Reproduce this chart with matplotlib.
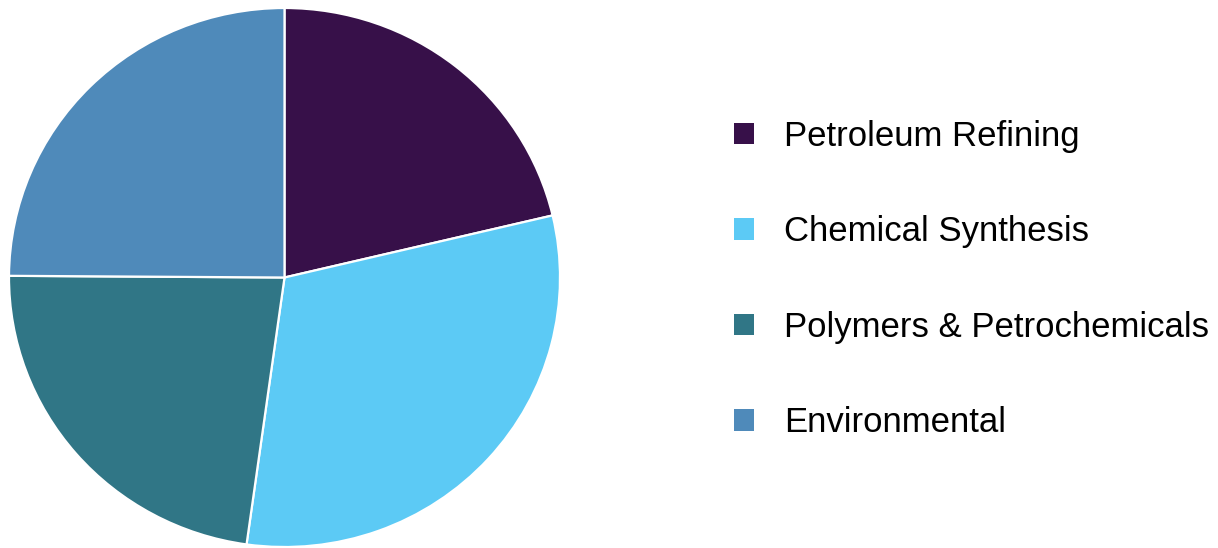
import matplotlib
matplotlib.use('Agg')
import matplotlib.pyplot as plt
from matplotlib.patches import Patch

labels = ['Petroleum Refining', 'Chemical Synthesis', 'Polymers & Petrochemicals', 'Environmental']
shares = [21.3, 30.9, 22.9, 24.9]
colors = ['#371049', '#5ccaf5', '#307686', '#4f8aba']

plt.rcParams['font.family'] = ['Liberation Sans', 'DejaVu Sans']

W, H = 1218, 548
fig = plt.figure(figsize=(W / 100, H / 100), dpi=100)
# pie box in px (slightly wider than tall in the reference)
left, right, top, bottom = 9, 560, 8, 547
ax = fig.add_axes([left / W, (H - bottom) / H, (right - left) / W, (bottom - top) / H])
ax.pie(shares, colors=colors, startangle=90, counterclock=False, radius=1,
       wedgeprops=dict(edgecolor='white', linewidth=1.6))
ax.set_aspect('auto')
ax.set_xlim(-1, 1)
ax.set_ylim(-1, 1)
ax.axis('off')

handles = [Patch(facecolor=c, edgecolor='none') for c in colors]
fig.legend(handles, labels, loc='center left', bbox_to_anchor=(734 / W, 1 - 279.5 / H),
           frameon=False, fontsize=25, borderpad=0, borderaxespad=0,
           handlelength=0.57, handleheight=0.57, handletextpad=0.86,
           labelspacing=1.8)

fig.savefig('out.png', dpi=100, facecolor='white')
